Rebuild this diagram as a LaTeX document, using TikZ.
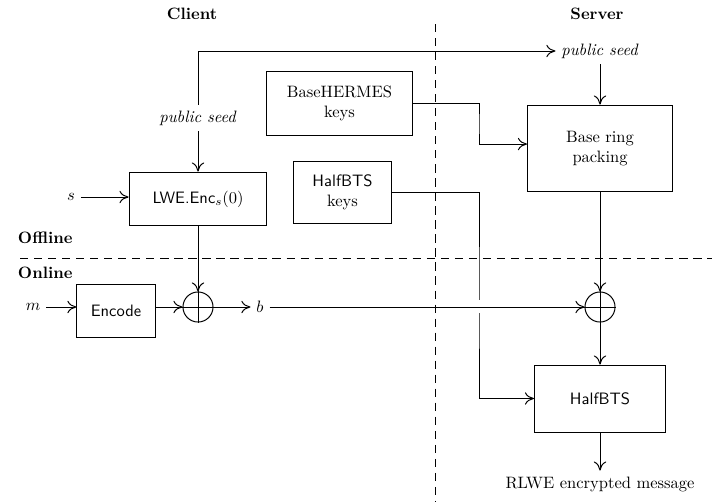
\documentclass[tikz,border=0pt]{standalone}
\usetikzlibrary{arrows.meta}
\begin{document}
\begin{tikzpicture}[x=0.606pt,y=-0.606pt,line width=0.6pt,
  box/.style={draw,inner sep=0pt,align=center},
  xorsum/.style={draw,circle,minimum size=18.2pt,inner sep=0pt},
  sep/.style={dash pattern=on 5pt off 3.5pt},
  flow/.style={-{To[length=5.5pt,width=7.5pt]}}]
\useasboundingbox (0,0) rectangle (712,502);

\draw[sep] (20,258) -- (712,258);
\draw[sep] (435,24) -- (435,502);

\node[font=\bfseries] (client) at (192,14) {Client};
\node[font=\bfseries] (server) at (597,14) {Server};
\node[font=\bfseries,anchor=west] (offline) at (12,238) {Offline};
\node[font=\bfseries,anchor=west] (online) at (12,273) {Online};

\node[box,minimum width=83.6pt,minimum height=32.7pt] (lwe) at (198,199) {\textsf{LWE.Enc}$_s(0)$};
\node[box,minimum width=87.9pt,minimum height=38.2pt] (hermes) at (339.5,103.5) {BaseHERMES\\keys};
\node[box,minimum width=58.8pt,minimum height=37.6pt] (keys) at (342.5,192.5) {\textsf{HalfBTS}\\keys};
\node[box,minimum width=87.9pt,minimum height=52.7pt] (ring) at (600,148.5) {Base ring\\packing};
\node[box,minimum width=47.3pt,minimum height=32.7pt] (enc) at (116,311) {\textsf{Encode}};
\node[box,minimum width=79.4pt,minimum height=40.6pt] (hbts) at (600,398.5) {\textsf{HalfBTS}};

\node[xorsum] (plusL) at (198,307) {};
\node[xorsum] (plusR) at (600,307) {};
\draw (plusL.north) -- (plusL.south) (plusL.west) -- (plusL.east);
\draw (plusR.north) -- (plusR.south) (plusR.west) -- (plusR.east);

\node (seedL) at (198,118) {\textit{public seed}};
\node (seedR) at (600,51) {\textit{public seed}};
\node (s) at (71,197) {$s$};
\node (m) at (33,307) {$m$};
\node (b) at (260,307) {$b$};
\node (rlwe) at (600,484) {RLWE encrypted message};

\draw[flow] (seedL.north) |- (seedR.west);
\draw[flow] (seedL.south) -- (lwe.north);
\draw[flow] (seedR.south) -- (ring.north);
\draw[flow] (s.east) -- (s.east -| lwe.west);
\draw[flow] (lwe.south) -- (plusL.north);
\draw[flow] (m.east |- plusL.west) -- (enc.west |- plusL.west);
\draw[flow] (enc.east |- plusL.west) -- (plusL.west);
\draw[flow] (plusL.east) -- (b.west |- plusL.east);
\draw[flow] (hermes.east) -| (479,124) |- ([yshift=2.7pt]ring.west);
\draw[flow] (keys.east) -| (479,300) |- (hbts.west);
\draw[white,line width=2pt] (479,300) -- (479,313);
\draw[flow] (b.east |- plusR.west) -- (plusR.west);
\draw[flow] (ring.south) -- (plusR.north);
\draw[flow] (plusR.south) -- (hbts.north);
\draw[flow] (hbts.south) -- (rlwe.north);
\end{tikzpicture}
\end{document}
